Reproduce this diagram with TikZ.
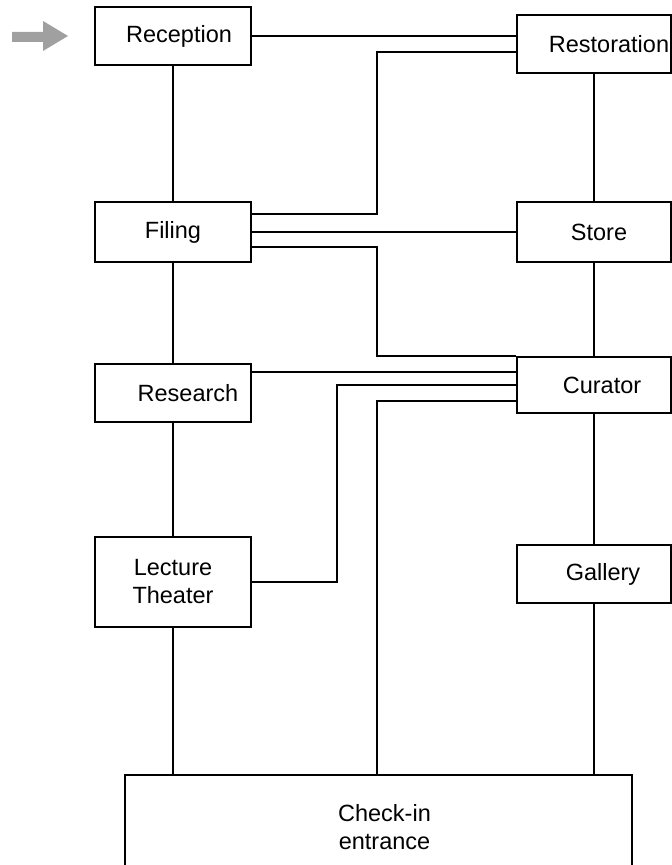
\documentclass[tikz,border=0pt]{standalone}
\usepackage{fontspec}
\setmainfont{Liberation Sans}
\usetikzlibrary{calc}
\usetikzlibrary{positioning}
\definecolor{arrowgray}{HTML}{A0A0A0}

\begin{document}
\begin{tikzpicture}[x=1pt,y=1pt,line width=1.6pt,
  room/.style={draw, fill=white, inner sep=0pt, align=center,
               font=\fontsize{23.5}{28}\selectfont},
  lroom/.style={room, minimum width=156pt, minimum height=58pt},
  rroom/.style={room, minimum width=154pt, minimum height=58pt}]
\useasboundingbox (0,0) rectangle (672,865);
% left column
\node[lroom] (reception) at (173,829) {\hspace*{12pt}Reception};
\node[lroom, minimum height=60pt] (filing) at (173,633) {Filing};
\node[lroom] (research) at (173,472) {\hspace*{30pt}Research};
\node[lroom, minimum height=90pt] (lecture) at (173,283) {Lecture\\Theater};
% right column
\node[rroom] (restoration) at (594,821) {\hspace*{30pt}Restoration};
\node[rroom, minimum height=60pt] (store) at (594,633) {\hspace*{10pt}Store};
\node[rroom, minimum height=56pt] (curator) at (594,480) {\hspace*{16pt}Curator};
\node[rroom] (gallery) at (594,291) {\hspace*{18pt}Gallery};
% entrance
\node[room, minimum width=507pt, minimum height=104pt] (checkin) at (378.5,38)
  {\hspace*{12pt}Check-in\\\hspace*{12pt}entrance};
% way in
\fill[arrowgray] (12,823) -- (43,823) -- (43,814) -- (68,829)
  -- (43,844) -- (43,833) -- (12,833) -- cycle;

% bus lines
\coordinate (busA) at (377,0);
\coordinate (busB) at (337,0);
\coordinate (r2) at ([yshift=-8pt]restoration.west);
\coordinate (f1) at ([yshift=18pt]filing.east);
\coordinate (f3) at ([yshift=-15pt]filing.east);
\coordinate (s1) at ([yshift=21pt]research.east);
\coordinate (c3) at ([yshift=-16pt]curator.west);

\draw (reception.east) -- (reception.east -| restoration.west);
\draw (f1) -| (busA |- r2) -- (r2);
\draw (filing.east) -- (filing.east -| store.west);
\draw (f3) -| (busA |- curator.north) -- (curator.north west);
\draw (s1) -- (s1 -| curator.west);
\draw (lecture.east) -| (busB |- curator.west) -- (curator.west);
\draw (c3) -| (busA |- checkin.north);

% verticals
\draw (reception) -- (filing);
\draw (filing) -- (research);
\draw (research) -- (lecture);
\draw (lecture.south) -- (lecture.south |- checkin.north);
\draw (restoration) -- (store);
\draw (store) -- (curator);
\draw (curator) -- (gallery);
\draw (gallery.south) -- (gallery.south |- checkin.north);
\end{tikzpicture}
\end{document}
